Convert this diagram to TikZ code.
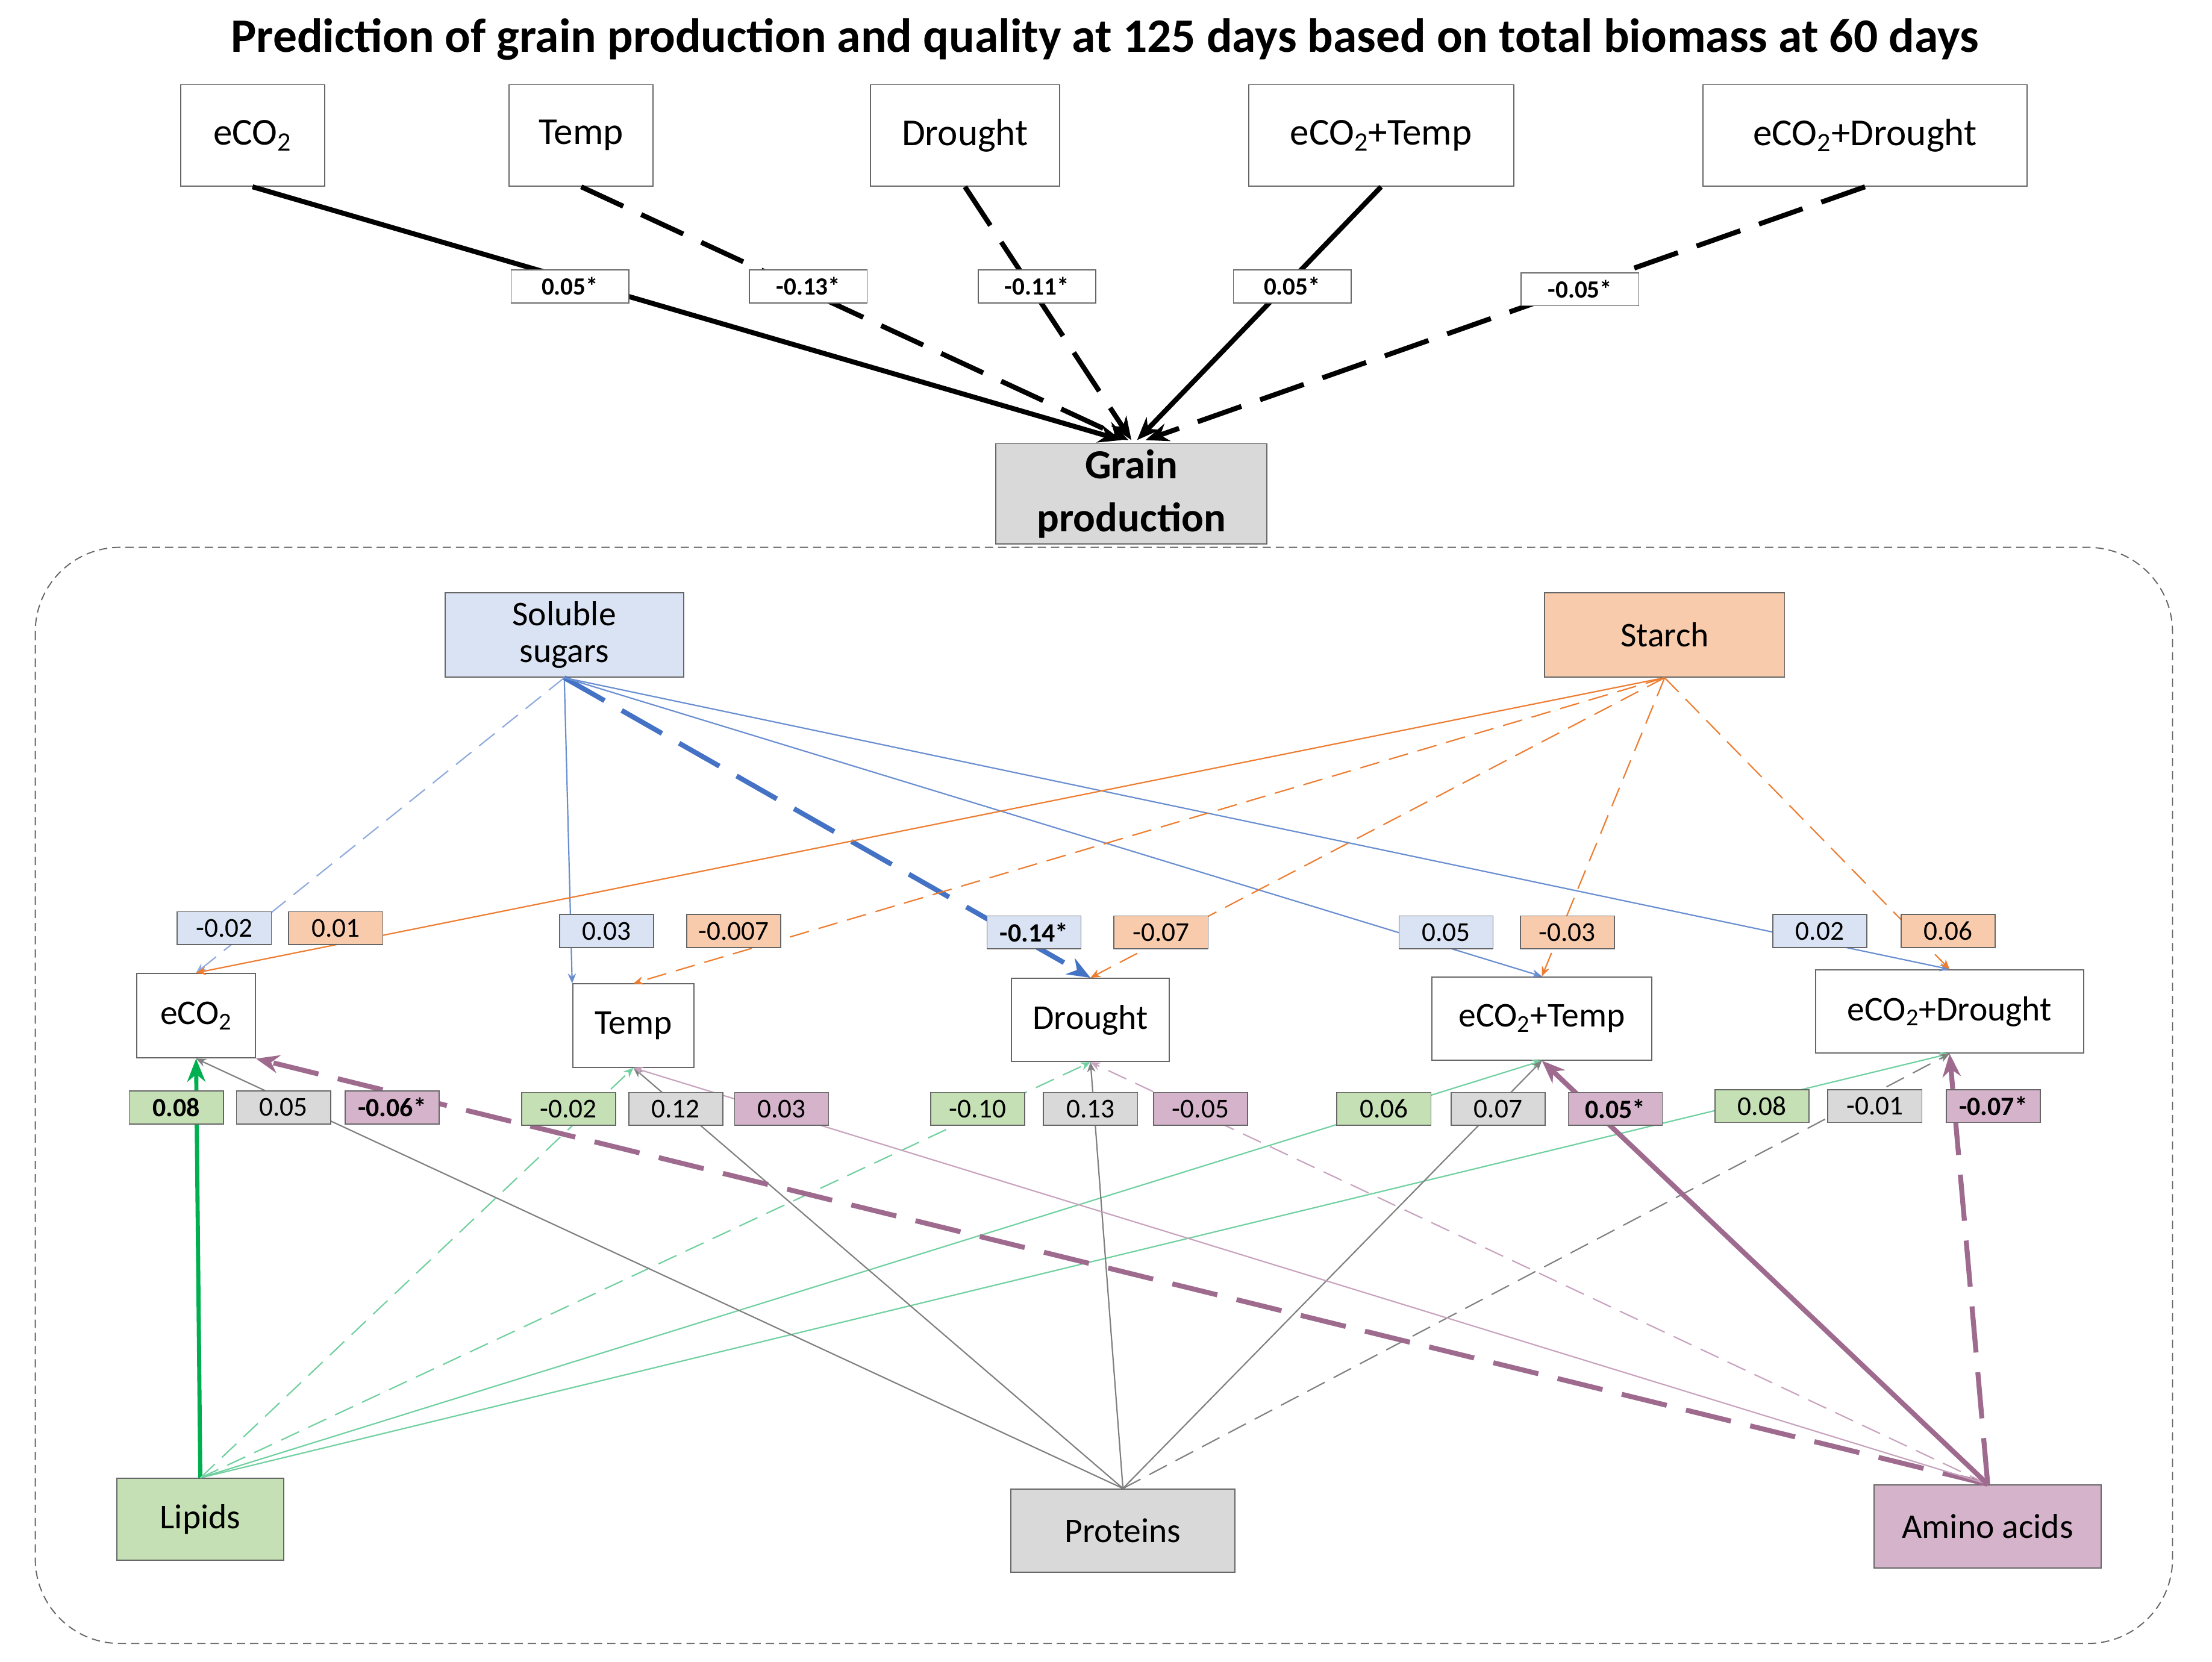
\documentclass[tikz,border=0pt]{standalone}
\usepackage{fontspec}
\setmainfont{Carlito}
\usetikzlibrary{arrows.meta}
\definecolor{sb}{HTML}{DAE3F3}\definecolor{sbl}{HTML}{4472C4}\definecolor{sbt}{HTML}{8FAADC}
\definecolor{so}{HTML}{F8CBAD}\definecolor{sol}{HTML}{ED7D31}
\definecolor{sg}{HTML}{C5E0B4}\definecolor{sgl}{HTML}{00B050}\definecolor{sgt}{HTML}{70D0A0}
\definecolor{sy}{HTML}{D9D9D9}\definecolor{syl}{HTML}{808080}
\definecolor{sm}{HTML}{D5B4CB}\definecolor{sml}{HTML}{9E6B8F}\definecolor{smt}{HTML}{C8A3BE}
\tikzset{
 bx/.style 2 args={draw=black!60,line width=0.7pt,minimum width=#1*0.03cm,minimum height=#2*0.03cm,inner sep=1pt,align=center,font=\fontsize{23}{24}\selectfont},
 lb/.style={draw=black!60,line width=0.6pt,fill=white,minimum width=2.0cm,minimum height=0.7cm,inner sep=1pt,font=\fontsize{16.5}{18}\selectfont},
 tl/.style={lb,font=\bfseries\fontsize{15}{16}\selectfont,minimum width=2.5cm},
 thk/.style={line width=3pt,-{Stealth[length=14pt,width=11pt]}},
 thn/.style={line width=0.8pt,-{Stealth[length=6pt,width=5pt]}},
 dsh/.style={dash pattern=on 12pt off 6pt},
 dsht/.style={dash pattern=on 28pt off 12pt},
 dshs/.style={dash pattern=on 5pt off 3pt},
}
\begin{document}
\begin{tikzpicture}[x=0.03cm,y=-0.03cm]
\useasboundingbox (0,0) rectangle (1568,1178);
\node[font=\bfseries\fontsize{29}{34}\selectfont] (title) at (783,28) {Prediction of grain production and quality at 125 days based on total biomass at 60 days};
% top
\node[bx={102}{72}] (t1) at (179,96) {eCO\textsubscript{2}};
\node[bx={102}{72}] (t2) at (412,96) {Temp};
\node[bx={134}{72}] (t3) at (684,96) {Drought};
\node[bx={188}{72}] (t4) at (979,96) {eCO\textsubscript{2}+Temp};
\node[bx={230}{72}] (t5) at (1322,96) {eCO\textsubscript{2}+Drought};
\node[bx={192}{71},fill=sy,font=\bfseries\fontsize{25}{32}\selectfont] (gp) at (802,350) {Grain\\production};
\coordinate (g1) at (795,312);\coordinate (g2) at (800,312);\coordinate (g3) at (802,312);\coordinate (g4) at (806,312);\coordinate (g5) at (812,312);
\draw[thk] (t1.south) -- (g1);
\draw[thk,dsht] (t2.south) -- (g2);
\draw[thk,dsht] (t3.south) -- (g3);
\draw[thk] (t4.south) -- (g4);
\draw[thk,dsht] (t5.south) -- (g5);
\node[tl] at (404,203) {0.05*};
\node[tl] at (573,203) {-0.13*};
\node[tl] at (735,203) {-0.11*};
\node[tl] at (916,203) {0.05*};
\node[tl] at (1120,205) {-0.05*};
% frame
\draw[black!60,line width=0.7pt,dshs,rounded corners=1.8cm] (25,388) rectangle (1540,1165);
% lower nodes
\node[bx={169}{60},fill=sb,font=\fontsize{21}{22}\selectfont] (ss) at (400,450) {Soluble\\sugars};
\node[bx={170}{60},fill=so,font=\fontsize{21}{22}\selectfont] (st) at (1180,450) {Starch};
\node[bx={84}{60},font=\fontsize{21}{22}\selectfont] (b1) at (139,720) {eCO\textsubscript{2}};
\node[bx={86}{59},font=\fontsize{21}{22}\selectfont] (b2) at (449,727) {Temp};
\node[bx={112}{59},font=\fontsize{21}{22}\selectfont] (b3) at (773,723) {Drought};
\node[bx={156}{59},font=\fontsize{21}{22}\selectfont] (b4) at (1093,722) {eCO\textsubscript{2}+Temp};
\node[bx={190}{59},font=\fontsize{21}{22}\selectfont] (b5) at (1382,717) {eCO\textsubscript{2}+Drought};
\node[bx={118}{58},fill=sg,font=\fontsize{21}{22}\selectfont] (li) at (142,1077) {Lipids};
\node[bx={159}{59},fill=sy,font=\fontsize{21}{22}\selectfont] (pr) at (796,1085) {Proteins};
\node[bx={161}{59},fill=sm,font=\fontsize{21}{22}\selectfont] (am) at (1409,1082) {Amino acids};
% sugars
\draw[thn,sbt,dsh] (ss.south) -- (b1.north);
\draw[thn,sbl!80] (ss.south) -- (b2.north west);
\draw[thk,sbl,dsht] (ss.south) -- (b3.north);
\draw[thn,sbl!80] (ss.south) -- (b4.north);
\draw[thn,sbl!80] (ss.south) -- (b5.north);
% starch
\draw[thn,sol] (st.south) -- (b1.north);
\draw[thn,sol,dsh] (st.south) -- (b2.north);
\draw[thn,sol,dsh] (st.south) -- (b3.north);
\draw[thn,sol,dsh] (st.south) -- (b4.north);
\draw[thn,sol,dsh] (st.south) -- (b5.north);
% lipids
\draw[thk,sgl,line width=2.5pt] (li.north) -- (b1.south);
\draw[thn,sgt,dsh] (li.north) -- (b2.south);
\draw[thn,sgt,dsh] (li.north) -- (b3.south);
\draw[thn,sgt] (li.north) -- (b4.south);
\draw[thn,sgt] (li.north) -- (b5.south);
% proteins
\draw[thn,syl] (pr.north) -- (b1.south);
\draw[thn,syl] (pr.north) -- (b2.south);
\draw[thn,syl] (pr.north) -- (b3.south);
\draw[thn,syl] (pr.north) -- (b4.south);
\draw[thn,syl,dsh] (pr.north) -- (b5.south);
% amino
\draw[thk,sml,dsht] (am.north) -- (b1.south east);
\draw[thn,smt] (am.north) -- (b2.south);
\draw[thn,smt,dsh] (am.north) -- (b3.south);
\draw[thk,sml] (am.north) -- (b4.south);
\draw[thk,sml,dsht] (am.north) -- (b5.south);
% labels upper
\node[lb,fill=sb] at (159,658) {-0.02};
\node[lb,fill=so] at (238,658) {0.01};
\node[lb,fill=sb] at (430,660) {0.03};
\node[lb,fill=so] at (520,660) {-0.007};
\node[lb,fill=sb,font=\bfseries\fontsize{16}{18}\selectfont] at (733,661) {-0.14*};
\node[lb,fill=so] at (823,661) {-0.07};
\node[lb,fill=sb] at (1025,661) {0.05};
\node[lb,fill=so] at (1111,661) {-0.03};
\node[lb,fill=sb] at (1290,660) {0.02};
\node[lb,fill=so] at (1381,660) {0.06};
% labels lower
\node[lb,fill=sg,font=\bfseries\fontsize{16}{18}\selectfont] at (125,785) {0.08};
\node[lb,fill=sy] at (201,785) {0.05};
\node[lb,fill=sm,font=\bfseries\fontsize{16}{18}\selectfont] at (278,785) {-0.06*};
\node[lb,fill=sg] at (403,786) {-0.02};
\node[lb,fill=sy] at (479,786) {0.12};
\node[lb,fill=sm] at (554,786) {0.03};
\node[lb,fill=sg] at (693,786) {-0.10};
\node[lb,fill=sy] at (773,786) {0.13};
\node[lb,fill=sm] at (851,786) {-0.05};
\node[lb,fill=sg] at (981,786) {0.06};
\node[lb,fill=sy] at (1062,786) {0.07};
\node[lb,fill=sm,font=\bfseries\fontsize{16}{18}\selectfont] at (1145,786) {0.05*};
\node[lb,fill=sg] at (1249,784) {0.08};
\node[lb,fill=sy] at (1329,784) {-0.01};
\node[lb,fill=sm,font=\bfseries\fontsize{16}{18}\selectfont] at (1413,784) {-0.07*};
\end{tikzpicture}
\end{document}
